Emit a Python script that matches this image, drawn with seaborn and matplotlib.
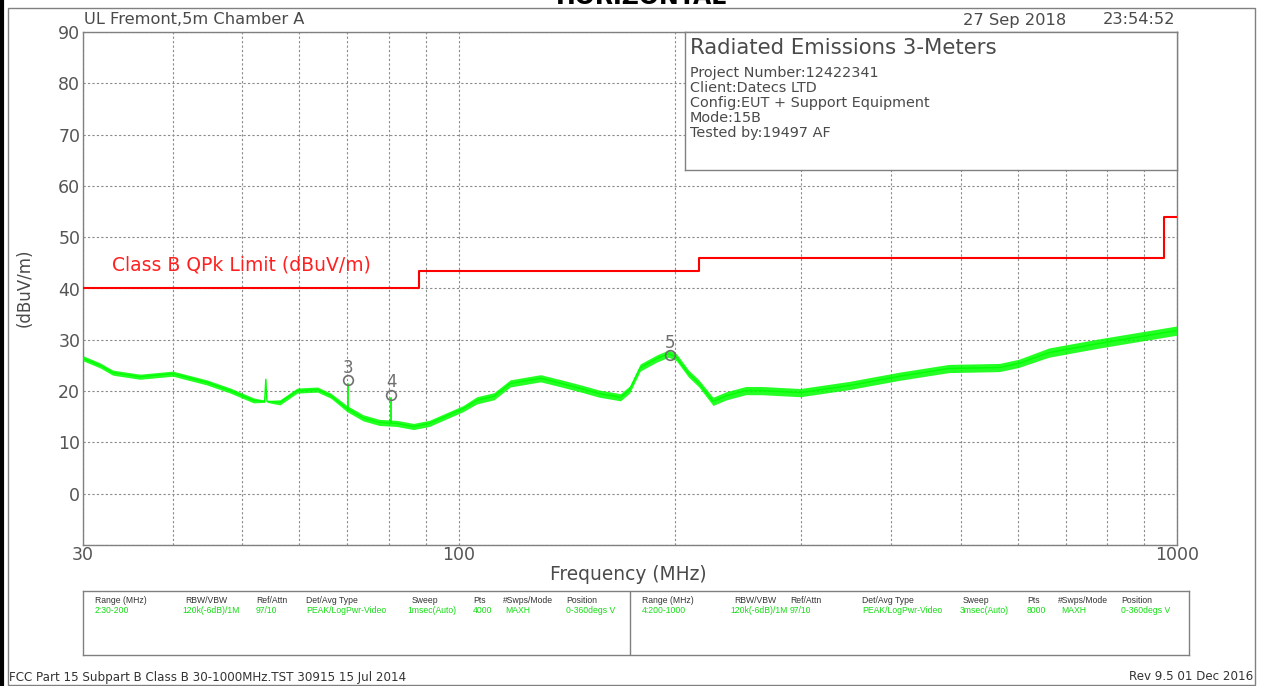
import numpy as np
import pandas as pd
import matplotlib
matplotlib.use("Agg")
import matplotlib.pyplot as plt
import seaborn as sns
from matplotlib.patches import Rectangle
from matplotlib.lines import Line2D

# ---------------- data ----------------
trace_freq = [30, 31.7, 33.0, 36.0, 40.0, 44.6, 48.1, 51.8, 53.7, 53.9, 54.1, 56.4, 59.6,
              63.6, 66.4, 69.9, 73.6, 77.5, 82.0, 86.5, 91.0, 96.3, 101.5, 106, 112,
              118, 130, 139, 148, 157, 168, 173, 179, 189, 196, 201, 209, 216, 226,
              236, 251, 264, 299, 350, 411, 481, 566, 602, 663, 780, 914, 1000]
trace_level = [26.4, 25.0, 23.6, 22.8, 23.4, 21.7, 20.1, 18.2, 18.0, 22.3, 18.0, 17.8, 20.1,
               20.3, 19.1, 16.6, 14.8, 13.9, 13.7, 13.1, 13.7, 15.2, 16.6, 18.2, 19.0,
               21.5, 22.5, 21.5, 20.5, 19.5, 18.8, 20.3, 24.6, 26.4, 27.3, 26.6, 23.4,
               21.5, 18.0, 19.1, 20.1, 20.1, 19.7, 21.1, 22.9, 24.4, 24.6, 25.4, 27.5,
               29.3, 30.9, 31.8]
trace_spread = [0.5, 0.5, 0.5, 0.5, 0.5, 0.5, 0.5, 0.5, 0.2, 0.2, 0.2, 0.5, 0.5,
                0.5, 0.5, 0.6, 0.6, 0.6, 0.6, 0.6, 0.6, 0.6, 0.6, 0.7, 0.7,
                0.7, 0.7, 0.7, 0.7, 0.7, 0.7, 0.7, 0.7, 0.7, 0.7, 0.7, 0.7,
                0.7, 0.8, 0.8, 0.8, 0.8, 0.8, 0.8, 0.8, 0.8, 0.8, 0.8, 0.9,
                0.9, 0.9, 0.9]

limit_edges = [30, 88, 216, 960, 1000]
limit_levels = [40, 43.5, 46, 54]

marker_ids = ["3", "4", "5"]
marker_freq = [70.1, 80.6, 196.9]
marker_level = [22.1, 19.3, 27.0]
marker_base = [16.6, 13.7, 27.0]

x_grid = [30, 40, 50, 60, 70, 80, 90, 100, 200, 300, 400, 500, 600, 700, 800, 900, 1000]
x_labels = {30: "30", 100: "100", 1000: "1000"}
y_ticks = [-10, 0, 10, 20, 30, 40, 50, 60, 70, 80, 90]

info_title = "Radiated Emissions 3-Meters"
info_lines = ["Project Number:12422341", "Client:Datecs LTD",
              "Config:EUT + Support Equipment", "Mode:15B", "Tested by:19497 AF"]

tbl_headers = ["Range (MHz)", "RBW/VBW", "Ref/Attn", "Det/Avg Type", "Sweep", "Pts",
               "#Swps/Mode", "Position"]
tbl_row1 = ["2:30-200", "120k(-6dB)/1M", "97/10", "PEAK/LogPwr-Video", "1msec(Auto)",
            "4000", "MAXH", "0-360degs V"]
tbl_row2 = ["4:200-1000", "120k(-6dB)/1M", "97/10", "PEAK/LogPwr-Video", "3msec(Auto)",
            "8000", "MAXH", "0-360degs V"]

# ---------------- layout helpers ----------------
W, H = 1277, 686
def fx(x): return x / W
def fy(y): return 1 - y / H

sns.set_theme(style="white")
plt.rcParams["font.family"] = ["DejaVu Sans"]
GRAY = "#4a4a4a"
LINE = "#808080"
GREEN = "#00ff00"
SMALL = ["Liberation Sans", "DejaVu Sans"]

fig = plt.figure(figsize=(W / 100, H / 100), dpi=100)
fig.patch.set_facecolor("white")

ax = fig.add_axes([fx(83), fy(545), fx(1177) - fx(83), fy(32) - fy(545)])
ax.set_facecolor("white")

df_trace = pd.DataFrame({"freq": trace_freq, "level": trace_level, "spread": trace_spread})
ax.fill_between(df_trace["freq"], df_trace["level"] - df_trace["spread"],
                df_trace["level"] + df_trace["spread"], color=GREEN, lw=0, alpha=0.85, zorder=3)
sns.lineplot(data=df_trace, x="freq", y="level", ax=ax, color=GREEN, lw=1.0,
             zorder=3, estimator=None, sort=False)

df_lim = pd.DataFrame({"freq": limit_edges, "level": limit_levels + [limit_levels[-1]]})
sns.lineplot(data=df_lim, x="freq", y="level", ax=ax, color="#ff0000", lw=1.5,
             drawstyle="steps-post", estimator=None, sort=False, zorder=4)

for mid, f, lv, base in zip(marker_ids, marker_freq, marker_level, marker_base):
    if base < lv - 0.8:
        ax.plot([f, f], [base, lv - 0.7], color=GREEN, lw=1.3, zorder=4)
    ax.plot([f], [lv], marker="o", ms=7, mfc="none", mec="#707070", mew=1.2, zorder=5)
    ax.text(f, lv + 2.4, mid, color="#707070", fontsize=12, ha="center", va="center", zorder=5)

ax.set_xscale("log")
ax.set_xlim(30, 1000)
ax.set_ylim(-10, 90)
ax.set_xticks(x_grid)
ax.set_xticklabels([x_labels.get(v, "") for v in x_grid])
ax.xaxis.set_minor_locator(matplotlib.ticker.NullLocator())
ax.set_yticks(y_ticks)
ax.set_yticklabels(["" if v < 0 else str(v) for v in y_ticks])
ax.tick_params(axis="both", length=0, labelsize=12.5, colors="#555555")
ax.tick_params(axis="x", pad=1)
ax.tick_params(axis="y", pad=2)
ax.grid(True, color="#8a8a8a", ls=(0, (2, 2)), lw=0.8)
for s in ax.spines.values():
    s.set_color(LINE)
    s.set_linewidth(1.0)
ax.set_xlabel("")
ax.set_ylabel("")

ax.text(32.9, 44.6, "Class B QPk Limit (dBuV/m)", color="#ff2020",
        fontsize=13.5, ha="left", va="center", zorder=5)

# axis labels
fig.text(fx(628), fy(575), "Frequency (MHz)", color=GRAY, fontsize=13.4, ha="center", va="center")
fig.text(fx(25), fy(288), "(dBuV/m)", color=GRAY, fontsize=12, rotation=90, ha="center", va="center")

# header texts
fig.text(fx(84), fy(20), "UL Fremont,5m Chamber A", color=GRAY, fontsize=11.7, ha="left", va="center")
fig.text(fx(963), fy(20), "27 Sep 2018", color=GRAY, fontsize=11.7, ha="left", va="center")
fig.text(fx(1175), fy(20), "23:54:52", color=GRAY, fontsize=11.7, ha="right", va="center")
fig.text(fx(642), fy(4), "HORIZONTAL", color="black", fontsize=17, fontweight="bold",
         ha="center", va="baseline")

# info box
axi = fig.add_axes([fx(685), fy(170), fx(1177) - fx(685), fy(32) - fy(170)])
axi.set_xticks([]); axi.set_yticks([])
axi.set_facecolor("white")
for s in axi.spines.values():
    s.set_color(LINE); s.set_linewidth(1.0)
axi.set_zorder(5)
axi.text(5 / 492, 1 - 16 / 138, info_title, transform=axi.transAxes, color=GRAY,
         fontsize=15.3, ha="left", va="center")
for i, line in enumerate(info_lines):
    axi.text(5 / 492, 1 - (41 + i * 15) / 138, line, transform=axi.transAxes, color=GRAY,
             fontsize=10.4, ha="left", va="center")

# outer frame
fig.add_artist(Rectangle((fx(8), fy(685)), fx(1255) - fx(8), fy(8) - fy(685),
                         transform=fig.transFigure, fill=False, ec=LINE, lw=1.0))
fig.add_artist(Line2D([fx(1.5), fx(1.5)], [0, 1], transform=fig.transFigure, color="black", lw=3))

# table
axt = fig.add_axes([fx(83), fy(655), fx(1189) - fx(83), fy(591) - fy(655)])
axt.set_xticks([]); axt.set_yticks([])
for s in axt.spines.values():
    s.set_color(LINE); s.set_linewidth(1.0)
axt.set_xlim(83, 1189)
axt.set_ylim(655, 591)
axt.axvline(630, color=LINE, lw=1.0)
col1 = [95, 185, 256, 306, 412, 473, 503, 566]
col1v = [95, 182, 256, 306, 407, 473, 505, 566]
col2 = [642, 734, 790, 862, 963, 1027, 1058, 1121]
col2v = [642, 730, 790, 862, 960, 1027, 1061, 1121]
for cols, colsv, row in ((col1, col1v, tbl_row1), (col2, col2v, tbl_row2)):
    for c, cv, h, v in zip(cols, colsv, tbl_headers, row):
        axt.text(c, 601, h, color="#333333", fontsize=6.2, ha="left", va="center", family=SMALL)
        axt.text(cv, 611, v, color="#11dd11", fontsize=6.2, ha="left", va="center", family=SMALL)

# footer
fig.text(fx(9), fy(677), "FCC Part 15 Subpart B Class B 30-1000MHz.TST 30915 15 Jul 2014",
         color="#333333", fontsize=8.6, ha="left", va="center")
fig.text(fx(1253), fy(677), "Rev 9.5 01 Dec 2016", color="#333333", fontsize=8.6,
         ha="right", va="center")

fig.savefig("out.png", dpi=100)
